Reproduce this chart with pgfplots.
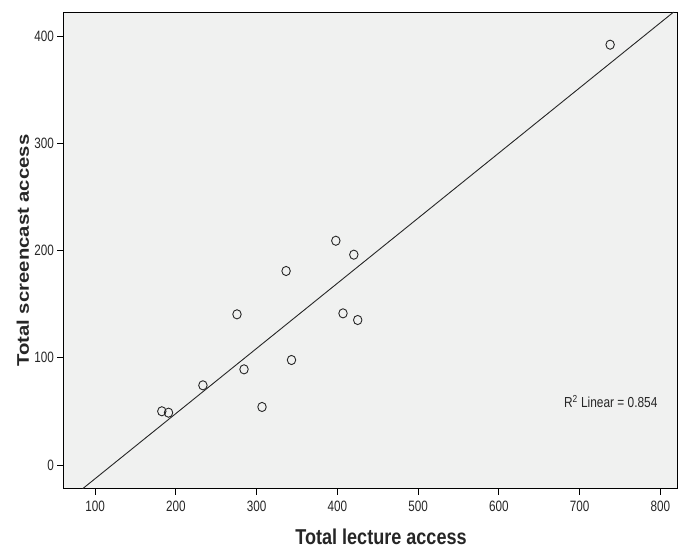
\documentclass[border=0pt]{standalone}
\usepackage{fontspec}
\setmainfont{Liberation Sans}
\newfontfamily\narrowfont{Liberation Sans}[FakeStretch=0.78]
\newfontfamily\labelfont{Liberation Sans}[FakeStretch=0.84]
\newfontfamily\rfont{Liberation Sans}[FakeStretch=0.82]
\usepackage{pgfplots}
\pgfplotsset{compat=1.18}
\definecolor{plotbg}{RGB}{240,241,240}
\begin{document}
\begin{tikzpicture}
\useasboundingbox (-63.3bp,-60.3bp) rectangle (614.7bp,488.7bp);
\begin{axis}[
  at={(0,0)}, anchor=south west,
  scale only axis,
  width=613.7bp, height=476.7bp,
  xmin=60.7, xmax=820.7,
  ymin=-22.1, ymax=422.4,
  xtick={100,200,...,800},
  ytick={0,100,200,300,400},
  axis line style={line width=0.9bp, black},
  axis background/.style={fill=plotbg},
  tick align=outside,
  major tick length=6bp,
  tick style={line width=0.9bp, black},
  xtick pos=bottom, ytick pos=left,
  /pgf/number format/assume math mode=true,
  /pgf/number format/1000 sep={},
  tick label style={font=\narrowfont\fontsize{15bp}{18bp}\selectfont, text=black!85},
  xticklabel style={yshift=-2.6bp},
  xlabel={Total lecture access},
  ylabel={\scalebox{1}[0.83]{Total screencast access}},
  xlabel style={font=\labelfont\bfseries\fontsize{21.5bp}{24bp}\selectfont, text=black!85,
    at={(axis description cs:0.5177,0)}, anchor=base, yshift=-55.5bp},
  ylabel style={font=\bfseries\fontsize{20.3bp}{24bp}\selectfont, text=black!85,
    at={(axis description cs:-0.0559,0.4995)}, anchor=base},
  clip=true,
]
\addplot[only marks, mark=o, mark size=4.6bp, mark options={line width=0.9bp, black!85, xscale=0.92}]
coordinates {
(182.7,50.1)
(191.0,48.8)
(233.6,74.3)
(275.8,140.5)
(284.5,89.2)
(306.8,54.1)
(336.6,180.9)
(343.3,97.9)
(398.2,209.1)
(407.1,141.4)
(420.5,196.1)
(425.3,135.2)
(737.9,391.9)
};
\addplot[line width=0.9bp, black!85] coordinates {(84.7,-22.1) (816.6,422.4)};
\node[anchor=base west, inner sep=0pt, font=\rfont\fontsize{14.5bp}{17bp}\selectfont, text=black!85]
  at (axis cs:680.6,53.8) {R\textsuperscript{2} Linear = 0.854};
\end{axis}
\end{tikzpicture}
\end{document}
